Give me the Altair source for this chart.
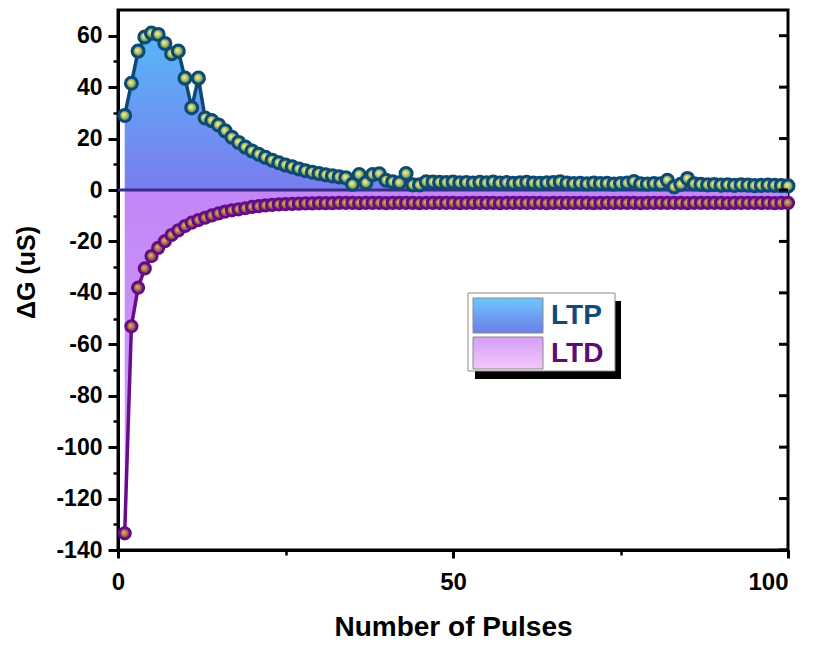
import altair as alt
import pandas as pd

# ---------------- data ----------------
pulses = list(range(1, 101))

ltp = [29, 41.5, 54, 59.5, 61, 60.5, 57, 53, 54, 43.5,
       32, 43.5, 28, 27, 25.3, 23, 20.5, 18.5, 16.7, 15.2,
       13.9, 12.7, 11.6, 10.6, 9.7, 9.0, 8.2, 7.5, 6.9, 6.4,
       5.9, 5.5, 5.1, 4.8, 2.2, 6.0, 2.8, 6.0, 6.3, 3.8,
       3.2, 2.8, 6.4, 2.0, 2.0, 3.2, 3.1, 3.0, 2.9, 3.1,
       2.8, 2.9, 2.7, 3.0, 2.8, 3.1, 2.7, 2.9, 2.6, 2.8,
       3.0, 2.7, 2.6, 2.8, 2.9, 3.2, 2.7, 2.5, 2.6, 2.4,
       2.7, 2.5, 2.6, 2.3, 2.5, 2.7, 3.3, 2.4, 2.3, 2.5,
       2.4, 3.8, 1.2, 2.2, 4.5, 2.4, 2.2, 2.0, 2.1, 1.9,
       2.0, 1.8, 2.0, 1.9, 1.7, 1.8, 1.9, 1.8, 1.7, 1.6]

ltd = [-133.5, -53, -38, -30.5, -25.7, -22.5, -19.9, -17.5, -15.7, -14.0,
       -12.7, -11.7, -10.8, -9.9, -9.1, -8.4, -7.9, -7.5, -7.1, -6.6,
       -6.3, -6.0, -5.8, -5.6, -5.5, -5.4, -5.3, -5.2, -5.2, -5.1,
       -5.1, -5.1, -5.0, -5.0, -5.0, -5.1, -5.0, -5.0, -5.0, -5.1,
       -5.0, -5.0, -5.0, -5.0, -5.1, -5.0, -5.0, -5.0, -5.0, -5.0,
       -5.1, -5.0, -5.0, -5.0, -5.0, -5.0, -5.1, -5.0, -5.0, -5.0,
       -5.0, -5.0, -5.0, -5.1, -5.0, -5.0, -5.0, -5.0, -5.0, -5.0,
       -5.1, -5.0, -5.0, -5.0, -5.0, -5.0, -5.0, -5.1, -5.0, -5.0,
       -5.0, -5.0, -5.0, -5.0, -5.1, -5.0, -5.0, -5.0, -5.0, -5.0,
       -5.1, -5.0, -5.0, -5.0, -5.0, -5.0, -5.0, -5.1, -5.0, -5.0]

x_major = [0, 50, 100]
x_minor = [25, 75]
y_major = [-140, -120, -100, -80, -60, -40, -20, 0, 20, 40, 60]
y_minor = [-130, -110, -90, -70, -50, -30, -10, 10, 30, 50]
legend_labels = ["LTP", "LTD"]

df = pd.DataFrame({"n": pulses, "ltp": ltp, "ltd": ltd})
ticks_df = pd.DataFrame({"v": y_major})
one = pd.DataFrame({"k": [0]})

FONT = "Liberation Sans"
W, H = 670, 540

xs = alt.Scale(domain=[0, 100], nice=False, zero=False)
ys = alt.Scale(domain=[-140, 70], nice=False, zero=False)

x_axis = alt.Axis(values=x_major, labelExpr="toString(datum.value)", tickSize=8, tickWidth=3,
                  tickColor="black", domainWidth=3, domainColor="black", labelFont=FONT,
                  labelFontSize=24, labelFontWeight="bold", labelColor="black", labelPadding=12,
                  labelFlush=False, labelOverlap=False,
                  labelAlign={"condition": {"test": "datum.value >= 100", "value": "right"},
                              "value": "center"},
                  grid=False, title="Number of Pulses", titleFont=FONT, titleFontSize=28,
                  titleFontWeight="bold", titleColor="black", titlePadding=19, orient="bottom")
y_axis = alt.Axis(values=y_major, labelExpr="toString(datum.value)", tickSize=10, tickWidth=3,
                  tickColor="black", domainWidth=3, domainColor="black", labelFont=FONT,
                  labelFontSize=23, labelFontWeight="bold", labelColor="black", labelPadding=6,
                  grid=False, title="ΔG (uS)", titleFont=FONT, titleFontSize=25,
                  titleFontWeight="bold", titleColor="black", titleX=-79, titleY=262,
                  orient="left")
x_axis_minor = alt.Axis(values=x_minor, tickSize=5, tickWidth=2.5, tickColor="black",
                        labels=False, domain=False, grid=False, title=None, orient="bottom")
y_axis_minor = alt.Axis(values=y_minor, tickSize=5, tickWidth=2.5, tickColor="black",
                        labels=False, domain=False, grid=False, title=None, orient="left")

ltp_fill = alt.LinearGradient(gradient="linear", x1=0, y1=0, x2=0, y2=1,
                              stops=[alt.GradientStop(color="#58b6f8", offset=0),
                                     alt.GradientStop(color="#7b7cef", offset=1)])
ltd_fill = alt.LinearGradient(gradient="linear", x1=0, y1=0, x2=0, y2=1,
                              stops=[alt.GradientStop(color="#c286f6", offset=0),
                                     alt.GradientStop(color="#d3a2f9", offset=1)])
ltp_ball = alt.RadialGradient(gradient="radial", x1=0.42, y1=0.42, r1=0, x2=0.5, y2=0.5, r2=0.5,
                              stops=[alt.GradientStop(color="#eef5b0", offset=0),
                                     alt.GradientStop(color="#b5c56a", offset=0.45),
                                     alt.GradientStop(color="#3f6c58", offset=1)])
ltd_ball = alt.RadialGradient(gradient="radial", x1=0.42, y1=0.42, r1=0, x2=0.5, y2=0.5, r2=0.5,
                              stops=[alt.GradientStop(color="#eab878", offset=0),
                                     alt.GradientStop(color="#b07c48", offset=0.45),
                                     alt.GradientStop(color="#6a2468", offset=1)])

base = alt.Chart(df)

ltd_area = base.mark_area(fill=ltd_fill, opacity=1).encode(
    x=alt.X("n:Q", scale=xs, axis=x_axis),
    y=alt.Y("ltd:Q", scale=ys, axis=y_axis),
    y2=alt.datum(0))
ltp_area = base.mark_area(fill=ltp_fill, opacity=1).encode(
    x=alt.X("n:Q", scale=xs, axis=None),
    y=alt.Y("ltp:Q", scale=ys, axis=None),
    y2=alt.datum(0))
zero = alt.Chart(one).mark_rule(color="#3d2a8a", strokeWidth=3.2).encode(
    y=alt.YDatum(0, scale=ys, axis=None))

ltd_line = base.mark_line(color="#6a0a8e", strokeWidth=3.5).encode(
    x=alt.X("n:Q", scale=xs, axis=None), y=alt.Y("ltd:Q", scale=ys, axis=None))
ltd_pts = base.mark_circle(fill=ltd_ball, stroke="#650a88", strokeWidth=2.8, size=130, opacity=1).encode(
    x=alt.X("n:Q", scale=xs, axis=None), y=alt.Y("ltd:Q", scale=ys, axis=None))
ltp_line = base.mark_line(color="#0b4a76", strokeWidth=3.5).encode(
    x=alt.X("n:Q", scale=xs, axis=None), y=alt.Y("ltp:Q", scale=ys, axis=None))
ltp_pts = base.mark_circle(fill=ltp_ball, stroke="#0b4a76", strokeWidth=3, size=145, opacity=1).encode(
    x=alt.X("n:Q", scale=xs, axis=None), y=alt.Y("ltp:Q", scale=ys, axis=None))

minor = base.mark_point(opacity=0).encode(
    x=alt.X("n:Q", scale=xs, axis=x_axis_minor),
    y=alt.Y("ltp:Q", scale=ys, axis=y_axis_minor))

right_ticks = alt.Chart(ticks_df).mark_rule(color="black", strokeWidth=3).encode(
    y=alt.Y("v:Q", scale=ys, axis=None), x=alt.value(W - 9), x2=alt.value(W))

# legend (drawn)
oc = alt.Chart(one)
shadow = oc.mark_rect(color="black").encode(
    x=alt.value(357), x2=alt.value(503), y=alt.value(291), y2=alt.value(369))
box = oc.mark_rect(fill="white", stroke="#8a8a8a", strokeWidth=1).encode(
    x=alt.value(350), x2=alt.value(497), y=alt.value(283), y2=alt.value(361))
sw_ltp = oc.mark_rect(fill=alt.LinearGradient(gradient="linear", x1=0, y1=0, x2=0, y2=1,
                      stops=[alt.GradientStop(color="#6ec6fe", offset=0),
                             alt.GradientStop(color="#6c7ee8", offset=1)]),
                      stroke="#8a8a8a", strokeWidth=1).encode(
    x=alt.value(355), x2=alt.value(425), y=alt.value(288), y2=alt.value(323))
sw_ltd = oc.mark_rect(fill=alt.LinearGradient(gradient="linear", x1=0, y1=0, x2=0, y2=1,
                      stops=[alt.GradientStop(color="#d69dfa", offset=0),
                             alt.GradientStop(color="#f3c8f8", offset=1)]),
                      stroke="#8a8a8a", strokeWidth=1).encode(
    x=alt.value(355), x2=alt.value(425), y=alt.value(327), y2=alt.value(359))
t_ltp = oc.mark_text(text=legend_labels[0], font=FONT, fontSize=28, fontWeight="bold",
                     color="#0f4a78", align="left", baseline="middle").encode(
    x=alt.value(433), y=alt.value(306))
t_ltd = oc.mark_text(text=legend_labels[1], font=FONT, fontSize=28, fontWeight="bold",
                     color="#5e0b72", align="left", baseline="middle").encode(
    x=alt.value(433), y=alt.value(344))

chart = alt.layer(
    ltd_area, ltp_area, zero, ltd_line, ltd_pts, ltp_line, ltp_pts, minor, right_ticks,
    shadow, box, sw_ltp, sw_ltd, t_ltp, t_ltd
).resolve_axis(x="independent", y="independent").properties(
    width=W, height=H,
    autosize=alt.AutoSizeParams(type="none"),
    padding={"left": 118, "top": 10, "right": 26, "bottom": 95},
    background="white"
).configure_view(stroke="black", strokeWidth=3)

chart.save("out.html", embed_options={"renderer": "svg", "actions": False})
